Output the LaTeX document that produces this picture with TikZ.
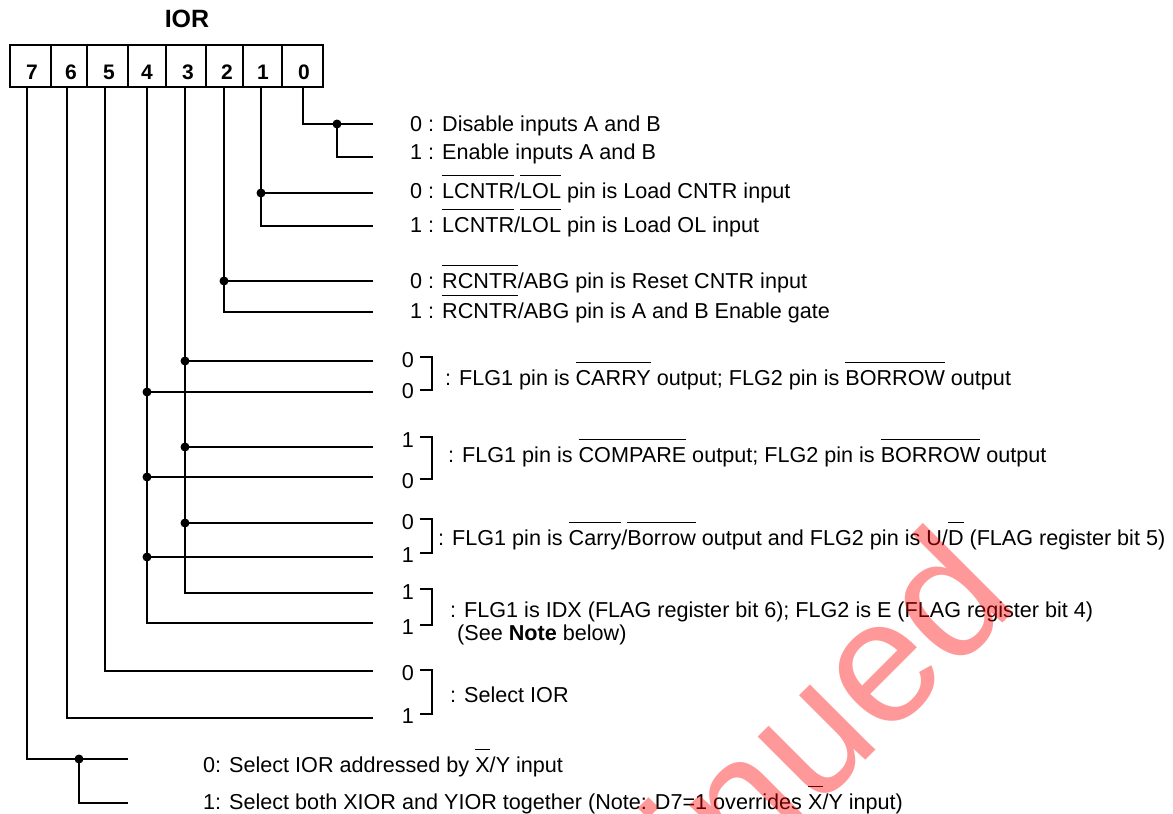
\documentclass[tikz,border=0pt]{standalone}
\usepackage{fontspec}
\setmainfont{Liberation Sans}
\usetikzlibrary{fit}
\newcommand\ovl[1]{\setbox0\hbox{#1}\rlap{\raisebox{\dimexpr\ht0+8pt\relax}{\rule{\wd0}{1pt}}}\box0\relax}
\begin{document}
\begin{tikzpicture}[x={(1pt,0)},y={(0,-1pt)},
  wire/.style={line width=1.1pt, black},
  brk/.style={line width=1.1pt, black},
  dotn/.style={circle, fill=black, inner sep=0, minimum size=9pt},
  txt/.style={anchor=base west, inner sep=0, font=\fontsize{21.6}{26}\selectfont},
  bitd/.style={anchor=base, inner sep=0, font=\fontsize{21.6}{26}\selectfont},
  cell/.style={draw, line width=1.1pt, inner sep=0},
  num/.style={font=\bfseries\fontsize{21}{24}\selectfont, inner sep=0},
  wmark/.style={rotate=45, anchor=base east, inner sep=0, text=red, text opacity=0.4,
    font=\fontsize{175}{175}\selectfont}]
\useasboundingbox (0,0) rectangle (1173,814);
\node[font=\bfseries\fontsize{25}{28}\selectfont, anchor=base, inner sep=0] (title) at (187,27) {IOR};
\foreach \i/\xa/\xb/\xn in {7/10/51/32,6/51/87/71,5/87/128/109,4/128/166/147,3/166/206/188,2/206/243/227,1/243/282/263,0/282/323/304}{
  \node[cell, fit={(\xa,45) (\xb,87)}] (c\i) {};
  \node[num] (n\i) at (\xn,72) {\i};
}
% taps
\coordinate (b7) at (27,87);
\coordinate (b6) at (67,87);
\coordinate (b5) at (105,87);
\coordinate (b4) at (147,87);
\coordinate (b3) at (185,87);
\coordinate (b2) at (224,87);
\coordinate (b1) at (261,87);
\coordinate (b0) at (303,87);
% right ends
\coordinate (r0a) at (373,124);
\coordinate (r0b) at (373,157);
\coordinate (r1a) at (373,193);
\coordinate (r1b) at (373,226);
\coordinate (r2a) at (373,281);
\coordinate (r2b) at (373,312);
\coordinate (rA0) at (373,361);
\coordinate (rA1) at (373,392);
\coordinate (rB0) at (373,447);
\coordinate (rB1) at (373,477);
\coordinate (rC0) at (373,523);
\coordinate (rC1) at (373,557);
\coordinate (rD0) at (373,593);
\coordinate (rD1) at (373,623);
\coordinate (rE0) at (373,671);
\coordinate (rE1) at (373,718);
\coordinate (r7a) at (128,759);
\coordinate (r7b) at (128,803);
% bit 0
\coordinate (d0) at (337,124);
\draw[wire] (b0) |- (r0a);
\draw[wire] (d0) |- (r0b);
\node[dotn] (k0) at (d0) {};
% bit 1
\draw[wire] (b1) |- (r1b);
\draw[wire] (b1 |- r1a) -- (r1a);
\node[dotn] (k1) at (b1 |- r1a) {};
% bit 2
\draw[wire] (b2) |- (r2b);
\draw[wire] (b2 |- r2a) -- (r2a);
\node[dotn] (k2) at (b2 |- r2a) {};
% bit 3
\draw[wire] (b3) |- (rD0);
\foreach \r in {A0,B0,C0}{
  \draw[wire] (b3 |- r\r) -- (r\r);
  \node[dotn] (k3\r) at (b3 |- r\r) {};
}
% bit 4
\draw[wire] (b4) |- (rD1);
\foreach \r in {A1,B1,C1}{
  \draw[wire] (b4 |- r\r) -- (r\r);
  \node[dotn] (k4\r) at (b4 |- r\r) {};
}
% bits 5, 6
\draw[wire] (b5) |- (rE0);
\draw[wire] (b6) |- (rE1);
% bit 7
\coordinate (d7) at (79,759);
\draw[wire] (b7) |- (r7a);
\draw[wire] (d7) |- (r7b);
\node[dotn] (k7) at (d7) {};
% texts
\node[txt] (t0a) at (410,131.7) {0 : Disable inputs A and B};
\node[txt] (t0b) at (410,159.7) {1 : Enable inputs A and B};
\node[txt] (t1a) at (410,198.7) {0 : \ovl{LCNTR}/\ovl{LOL} pin is Load CNTR input};
\node[txt] (t1b) at (410,232.7) {1 : \ovl{LCNTR}/\ovl{LOL} pin is Load OL input};
\node[txt] (t2a) at (410,288.7) {0 : \ovl{RCNTR}/ABG pin is Reset CNTR input};
\node[txt] (t2b) at (410,318.7) {1 : \ovl{RCNTR}/ABG pin is A and B Enable gate};
% bracket digits
\node[bitd] (kA0) at (408,367.7) {0};
\node[bitd] (kA1) at (408,398.7) {0};
\node[bitd] (kB0) at (408,447.7) {1};
\node[bitd] (kB1) at (408,488.7) {0};
\node[bitd] (kC0) at (408,529.7) {0};
\node[bitd] (kC1) at (408,562.7) {1};
\node[bitd] (kD0) at (408,599.7) {1};
\node[bitd] (kD1) at (408,634.7) {1};
\node[bitd] (kE0) at (408,680.7) {0};
\node[bitd] (kE1) at (408,723.7) {1};
% brackets
\foreach \ya/\yb in {357/390, 437/479, 519/553, 589/625, 670/714}{
  \draw[brk] (420,\ya) -- (432,\ya) -- (432,\yb) -- (420,\yb);
}
\node[txt] (tA) at (445,385.7) {: FLG1 pin is \ovl{CARRY} output; FLG2 pin is \ovl{BORROW} output};
\node[txt] (tB) at (448,462.7) {: FLG1 pin is \ovl{COMPARE} output; FLG2 pin is \ovl{BORROW} output};
\node[txt] (tC) at (438,545.7) {: FLG1 pin is \ovl{Carry}/\ovl{Borrow} output and FLG2 pin is U/\ovl{D} (FLAG register bit 5)};
\node[txt] (tD) at (450,617.7) {: FLG1 is IDX (FLAG register bit 6); FLG2 is E (FLAG register bit 4)};
\node[txt] (tD2) at (457,640.7) {(See \textbf{Note} below)};
\node[txt] (tE) at (450,702.7) {: Select IOR};
\node[txt] (t7a) at (203,772.7) {0: Select IOR addressed by \ovl{X}/Y input};
\node[txt] (t7b) at (203,809.7) {1: Select both XIOR and YIOR together (Note: D7=1 overrides \ovl{X}/Y input)};
% watermark
\node[wmark] (wm) at (1022,604) {Discontinued};
\end{tikzpicture}
\end{document}
